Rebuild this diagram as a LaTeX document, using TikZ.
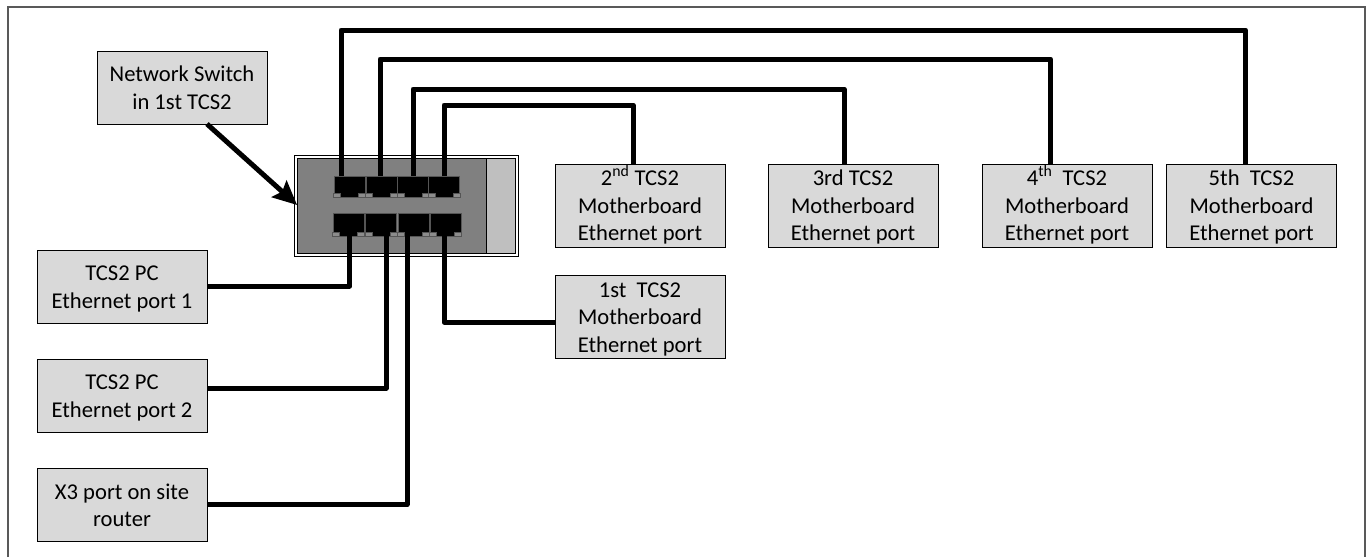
\documentclass[tikz,border=0pt]{standalone}
\usepackage{fontspec}
\setmainfont{Carlito}
\usetikzlibrary{arrows.meta}
\newcommand{\supr}[1]{\smash{\raisebox{2pt}{\textsuperscript{#1}}}}
\newcommand{\toprl}{\rule{0pt}{21.5pt}}
\newcommand{\botrl}{\rule[-6pt]{0pt}{6pt}}
\tikzset{
 x=1pt,y=-1pt,
 lbl/.style={draw=black,line width=0.9pt,fill=boxgray,align=center,inner sep=0pt,font=\fontsize{22.6}{27.5}\selectfont},
 lblw/.style={lbl,minimum width=170pt,minimum height=73pt},
 lblt/.style={lbl,minimum width=170pt,minimum height=83pt},
 port/.style={draw=portedge,line width=0.7pt,fill=black,inner sep=0pt,minimum width=31pt,minimum height=21pt},
 portb/.style={port,minimum height=23pt},
 notch/.style={fill=notchgray,draw=portedge,line width=0.4pt},
 wire/.style={draw=black,line width=5pt,line join=round},
}
\definecolor{boxgray}{HTML}{D9D9D9}
\definecolor{swdark}{HTML}{808080}
\definecolor{swlight}{HTML}{BFBFBF}
\definecolor{portedge}{HTML}{555555}
\definecolor{notchgray}{HTML}{8C8C8C}
\definecolor{frame}{HTML}{595959}
\begin{document}
\begin{tikzpicture}
\useasboundingbox (0,0) rectangle (1372,557);
\fill[white] (0,0) rectangle (1372,557);
% outer frame
\draw[frame,line width=1.3pt] (8,557) -- (8,7) -- (1365,7) -- (1365,557);
% switch
\node[draw=black,line width=0.8pt,fill=white,minimum width=224pt,minimum height=101pt,inner sep=0pt] (sw) at (406,205.5) {};
\node[draw=black,line width=0.8pt,fill=swdark,minimum width=189pt,minimum height=95pt,inner sep=0pt] (swd) at (392,205.5) {};
\node[draw=black,line width=0.8pt,fill=swlight,minimum width=29pt,minimum height=95pt,inner sep=0pt] (swl) at (501,205.5) {};
% ports
\foreach \n/\x in {u1/349.5,u2/381.5,u3/413,u4/444}{
 \node[port] (\n) at (\x,186.5) {};
 \fill[notch] (\n.south west) rectangle ++(7,-4);
 \fill[notch] (\n.south east) rectangle ++(-7,-4);
}
\foreach \n/\x in {d1/348.5,d2/381,d3/413.5,d4/445.5}{
 \node[portb] (\n) at (\x,224.5) {};
 \fill[notch] (\n.south west) rectangle ++(7,-4);
 \fill[notch] (\n.south east) rectangle ++(-7,-4);
}
% label boxes
\node[lblw] (ns) at (182,87.5) {\toprl Network Switch\\in 1st TCS2\botrl};
\node[lblw] (pc1) at (122,286.5) {\toprl TCS2 PC\\Ethernet port 1\botrl};
\node[lblw] (pc2) at (122,395.5) {\toprl TCS2 PC\\Ethernet port 2\botrl};
\node[lblw] (x3) at (122,505) {\toprl X3 port on site\\router\botrl};
\node[lblt] (m1) at (640,317) {\toprl 1st~ TCS2\\Motherboard\\Ethernet port\botrl};
\node[lblt] (m2) at (640,205.5) {\toprl 2\supr{nd} TCS2\\Motherboard\\Ethernet port\botrl};
\node[lblt] (m3) at (853,205.5) {\toprl 3rd TCS2\\Motherboard\\Ethernet port\botrl};
\node[lblt] (m4) at (1067,205.5) {\toprl 4\supr{th}~ TCS2\\Motherboard\\Ethernet port\botrl};
\node[lblt] (m5) at (1251.5,205.5) {\toprl 5th~ TCS2\\Motherboard\\Ethernet port\botrl};
% wire anchor points
\coordinate (au1) at (341,176); \coordinate (tm5) at (1245.5,164);
\coordinate (au2) at (380,176); \coordinate (tm4) at (1050.5,164);
\coordinate (au3) at (413,176); \coordinate (tm3) at (844,164);
\coordinate (au4) at (444,176); \coordinate (tm2) at (633,164);
\coordinate (ad1) at (349.5,235); \coordinate (ad2) at (386,235);
\coordinate (ad3) at (407,235); \coordinate (ad4) at (444,235);
\coordinate (nsb) at (207,124);
\draw[wire] (au1) -- (341,30) -| (tm5);
\draw[wire] (au2) -- (380,59) -| (tm4);
\draw[wire] (au3) -- (413,89) -| (tm3);
\draw[wire] (au4) -- (444,105) -| (tm2);
\draw[wire] (ad1) |- (pc1.east |- 0,286);
\draw[wire] (ad2) |- (pc2.east |- 0,388);
\draw[wire] (ad3) |- (x3.east |- 0,504.5);
\draw[wire] (ad4) |- (m1.west |- 0,322);
\draw[draw=black,line width=5pt,-{Stealth[length=24pt,width=22pt,inset=4pt]}] (nsb) -- (swd.west |- 0,205);
\end{tikzpicture}
\end{document}
